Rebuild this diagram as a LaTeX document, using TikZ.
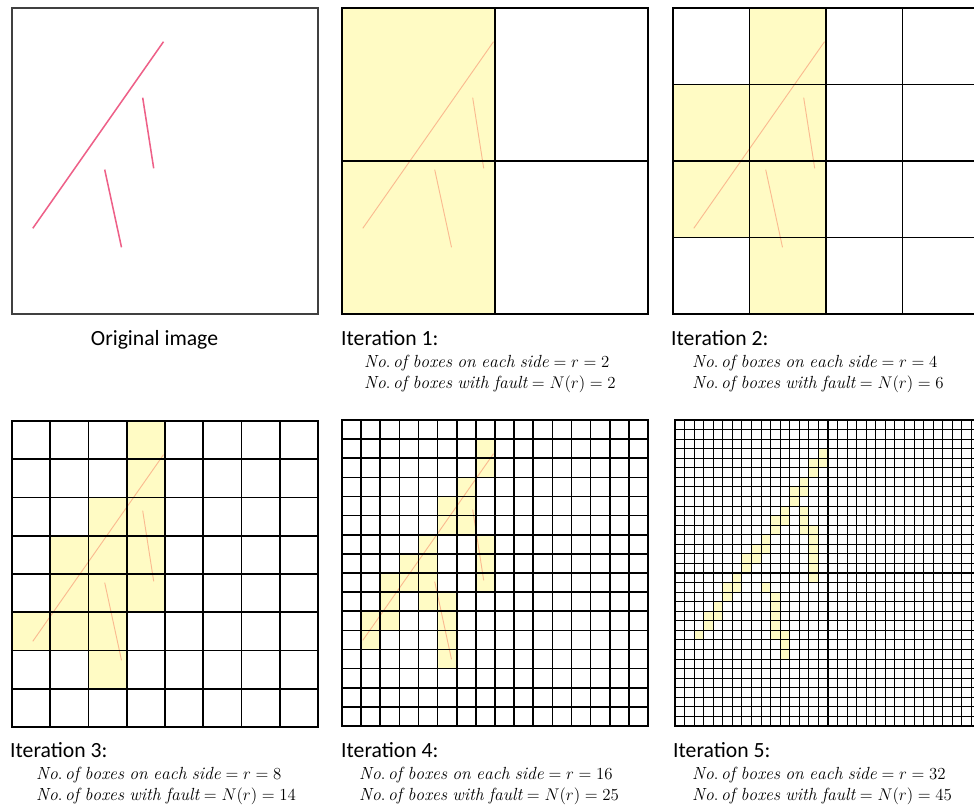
\documentclass[tikz,border=0pt]{standalone}
\usepackage{fontspec}
\newfontfamily\captionfont{Carlito}
\definecolor{faultfill}{RGB}{255,251,196}
\definecolor{faultred}{RGB}{238,96,136}

% the three fault traces, in panel coordinates (panel side = 306)
\newcommand{\faulttraces}[1]{%
  \draw[#1] (20.8,220.3) -- (151.5,33.7);
  \draw[#1] (130.7,89.7) -- (141.7,160.3);
  \draw[#1] (92.7,161.6) -- (109.5,239.3);
}

\begin{document}
\begin{tikzpicture}[
    x=0.03cm, y=-0.03cm,
    frame/.style={draw=black!75, line width=1.3pt},
    gridline/.style={draw=black, line width=1.5pt, line cap=rect},
    finegrid/.style={draw=black, line width=0.9pt, line cap=rect},
    cell/.style={fill=faultfill},
    fault/.style={draw=faultred, line width=1.3pt},
    faintfault/.style={draw=faultred!60!orange, line width=0.8pt, opacity=0.45},
    heading/.style={font=\captionfont\fontsize{18.5}{22}\selectfont, inner sep=0pt},
    eqline/.style={font=\fontsize{15}{18}\selectfont, anchor=base west, inner sep=0pt}
  ]

  \clip (0,0) rectangle (974,805);
  \fill[white] (0,0) rectangle (974,805);

  % original image
  \begin{scope}[shift={(12,8)}]
    \faulttraces{fault}
    \draw[frame] (0,0) rectangle (306,306);
  \end{scope}

  % iteration 1, r = 2
  \begin{scope}[shift={(342,8)}]
    \foreach \c/\r in {0/0,0/1}
      \fill[cell] (\c*153,\r*153) rectangle ++(153,153);
    \faulttraces{faintfault}
    \foreach \k in {0,...,2}
      \draw[gridline] (\k*153,0) -- (\k*153,306) (0,\k*153) -- (306,\k*153);
  \end{scope}

  % iteration 2, r = 4
  \begin{scope}[shift={(673,8)}]
    \foreach \c/\r in {1/0,0/1,1/1,0/2,1/2,1/3}
      \fill[cell] (\c*76.5,\r*76.5) rectangle ++(76.5,76.5);
    \faulttraces{faintfault}
    \foreach \k in {0,...,4}
      \draw[gridline] (\k*76.5,0) -- (\k*76.5,306) (0,\k*76.5) -- (306,\k*76.5);
  \end{scope}

  % iteration 3, r = 8
  \begin{scope}[shift={(12,421)}]
    \foreach \c/\r in {3/0,3/1,2/2,3/2,1/3,2/3,3/3,1/4,2/4,3/4,0/5,1/5,2/5,2/6}
      \fill[cell] (\c*38.25,\r*38.25) rectangle ++(38.25,38.25);
    \faulttraces{faintfault}
    \foreach \k in {0,...,8}
      \draw[gridline] (\k*38.25,0) -- (\k*38.25,306) (0,\k*38.25) -- (306,\k*38.25);
  \end{scope}

  % iteration 4, r = 16
  \begin{scope}[shift={(342,420)}]
    \foreach \c/\r in {1/10,1/11,2/8,2/9,2/10,3/7,3/8,4/6,4/7,4/8,4/9,
                       5/4,5/5,5/9,5/10,5/11,5/12,6/3,6/4,6/5,7/1,7/2,7/6,7/7,7/8}
      \fill[cell] (\c*19.125,\r*19.125) rectangle ++(19.125,19.125);
    \faulttraces{faintfault}
    \foreach \k in {0,...,16}
      \draw[gridline, line width=1.3pt] (\k*19.125,0) -- (\k*19.125,306) (0,\k*19.125) -- (306,\k*19.125);
  \end{scope}

  % iteration 5, r = 32
  \begin{scope}[shift={(675,420)}]
    \foreach \c/\r in {2/22,3/21,3/20,4/20,4/19,5/18,5/17,6/17,6/16,7/15,7/14,8/14,8/13,9/13,
                       9/12,10/11,10/10,11/10,11/9,12/8,12/7,13/7,13/6,14/5,14/4,15/4,15/3,
                       13/9,13/10,13/11,14/11,14/12,14/13,14/14,14/15,14/16,
                       9/17,10/18,10/19,10/20,10/21,10/22,11/22,11/23,11/24}
      \fill[cell] (\c*9.5625,\r*9.5625) rectangle ++(9.5625,9.5625);
    \foreach \k in {0,...,32}
      \draw[finegrid] (\k*9.5625,0) -- (\k*9.5625,306) (0,\k*9.5625) -- (306,\k*9.5625);
  \end{scope}

  % captions
  \node[heading, anchor=base] (orig) at (154.5,345) {Original image};

  \node[heading, anchor=base west] (iter1) at (341,345) {Iteration 1:};
  \node[eqline] (iter1a) at (364,367) {$\mathit{No.\,of\ boxes\ on\ each\ side} = r = 2$};
  \node[eqline] (iter1b) at (364,388) {$\mathit{No.\,of\ boxes\ with\ fault} = N(r) = 2$};

  \node[heading, anchor=base west] (iter2) at (671,345) {Iteration 2:};
  \node[eqline] (iter2a) at (692,367) {$\mathit{No.\,of\ boxes\ on\ each\ side} = r = 4$};
  \node[eqline] (iter2b) at (692,388) {$\mathit{No.\,of\ boxes\ with\ fault} = N(r) = 6$};

  \node[heading, anchor=base west] (iter3) at (10,757) {Iteration 3:};
  \node[eqline] (iter3a) at (36,779) {$\mathit{No.\,of\ boxes\ on\ each\ side} = r = 8$};
  \node[eqline] (iter3b) at (36,800) {$\mathit{No.\,of\ boxes\ with\ fault} = N(r) = 14$};

  \node[heading, anchor=base west] (iter4) at (341,757) {Iteration 4:};
  \node[eqline] (iter4a) at (359,779) {$\mathit{No.\,of\ boxes\ on\ each\ side} = r = 16$};
  \node[eqline] (iter4b) at (359,800) {$\mathit{No.\,of\ boxes\ with\ fault} = N(r) = 25$};

  \node[heading, anchor=base west] (iter5) at (673,757) {Iteration 5:};
  \node[eqline] (iter5a) at (692,779) {$\mathit{No.\,of\ boxes\ on\ each\ side} = r = 32$};
  \node[eqline] (iter5b) at (692,800) {$\mathit{No.\,of\ boxes\ with\ fault} = N(r) = 45$};

\end{tikzpicture}
\end{document}
